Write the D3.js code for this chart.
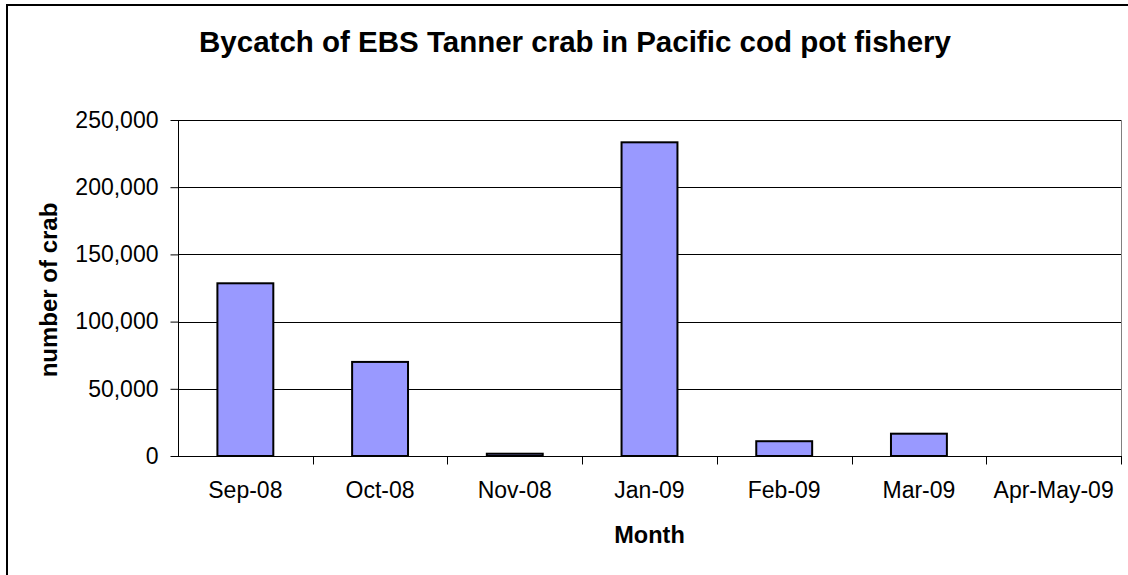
<!DOCTYPE html>
<html>
<head>
<meta charset="utf-8">
<script src="https://cdn.jsdelivr.net/npm/d3@7"></script>
<style>
  body { margin: 0; background: #fff; }
  svg { display: block; font-family: "Liberation Sans", Arial, sans-serif; }
</style>
</head>
<body>
<div id="chart"></div>
<script>
var width = 1128,
    height = 575;

// data
var months = ["Sep-08", "Oct-08", "Nov-08", "Jan-09", "Feb-09", "Mar-09", "Apr-May-09"];
var crab = [128500, 70000, 1700, 233400, 11000, 16600, 0];
var yTicks = [0, 50000, 100000, 150000, 200000, 250000];

var plot = {left: 178, right: 1121, top: 120, bottom: 456};

var svg = d3.select("#chart").append("svg")
    .attr("width", width)
    .attr("height", height);

// outer chart border (right and bottom run off the picture)
svg.append("rect")
    .attr("x", 7).attr("y", 5)
    .attr("width", 1130).attr("height", 580)
    .attr("fill", "#fff")
    .attr("stroke", "#000")
    .attr("stroke-width", 2);

var x = d3.scaleBand()
    .domain(months)
    .range([plot.left, plot.right])
    .padding(0);

var y = d3.scaleLinear()
    .domain([0, 250000])
    .range([plot.bottom, plot.top]);

// gridlines
svg.append("g")
  .selectAll("line")
  .data(yTicks.slice(1))
  .join("line")
    .attr("x1", plot.left).attr("x2", plot.right)
    .attr("y1", d => Math.round(y(d)) + 0.5)
    .attr("y2", d => Math.round(y(d)) + 0.5)
    .attr("stroke", "#000")
    .attr("stroke-width", 1);

// right border of plot area
svg.append("line")
    .attr("x1", plot.right + 0.5).attr("x2", plot.right + 0.5)
    .attr("y1", plot.top).attr("y2", plot.bottom)
    .attr("stroke", "#808080");

// bars
var barW = x.bandwidth() * 0.415;
svg.append("g")
  .selectAll("rect")
  .data(months.map((m, i) => ({m: m, v: crab[i]})).filter(d => d.v > 0))
  .join("rect")
    .attr("x", d => x(d.m) + (x.bandwidth() - barW) / 2)
    .attr("y", d => y(d.v))
    .attr("width", barW)
    .attr("height", d => y(0) - y(d.v))
    .attr("fill", "#9999ff")
    .attr("stroke", "#000")
    .attr("stroke-width", 2);

// y axis
var yAxis = d3.axisLeft(y)
    .tickValues(yTicks)
    .tickSize(8)
    .tickPadding(12)
    .tickFormat(d3.format(","));
var gy = svg.append("g")
    .attr("transform", "translate(" + (plot.left + 0.5) + ",0)")
    .call(yAxis);
gy.select(".domain").attr("stroke", "#000").attr("d", "M0," + plot.top + "V" + plot.bottom);
gy.selectAll("text").attr("font-size", 23).attr("fill", "#000").attr("font-family", "Liberation Sans, Arial, sans-serif");

// x axis with ticks at category boundaries
var gx = svg.append("g")
    .attr("transform", "translate(0," + (plot.bottom + 0.5) + ")");
gx.append("line")
    .attr("x1", plot.left).attr("x2", plot.right + 1)
    .attr("stroke", "#000");
gx.selectAll(".tick")
  .data(months)
  .join("line")
    .attr("class", "tick")
    .attr("x1", d => Math.round(x(d) + x.bandwidth()) + 0.5)
    .attr("x2", d => Math.round(x(d) + x.bandwidth()) + 0.5)
    .attr("y1", 0).attr("y2", 8)
    .attr("stroke", "#000");
gx.selectAll("text")
  .data(months)
  .join("text")
    .attr("x", d => x(d) + x.bandwidth() / 2)
    .attr("y", 41)
    .attr("text-anchor", "middle")
    .attr("font-size", 23)
    .text(d => d);

// titles
svg.append("text")
    .attr("x", 575).attr("y", 52)
    .attr("text-anchor", "middle")
    .attr("font-size", 29.5)
    .attr("font-weight", "bold")
    .text("Bycatch of EBS Tanner crab in Pacific cod pot fishery");

svg.append("text")
    .attr("x", (plot.left + plot.right) / 2).attr("y", 543)
    .attr("text-anchor", "middle")
    .attr("font-size", 23.5)
    .attr("font-weight", "bold")
    .text("Month");

svg.append("text")
    .attr("transform", "translate(57,290) rotate(-90)")
    .attr("text-anchor", "middle")
    .attr("font-size", 24)
    .attr("font-weight", "bold")
    .text("number of crab");
</script>
</body>
</html>
